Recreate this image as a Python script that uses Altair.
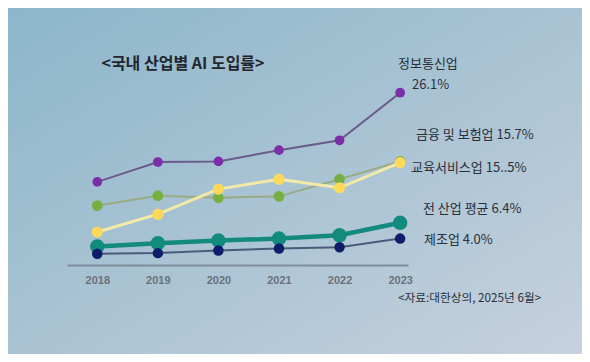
import altair as alt
import pandas as pd

# ---- data ----
years = [2018, 2019, 2020, 2021, 2022, 2023]
series_names = ["정보통신업", "금융 및 보험업", "교육서비스업", "전 산업 평균", "제조업"]
it_vals = [12.6, 15.6, 15.7, 17.4, 18.9, 26.1]
fin_vals = [9.0, 10.5, 10.2, 10.4, 13.0, 15.7]
edu_vals = [5.0, 7.7, 11.5, 13.0, 11.7, 15.5]
avg_vals = [2.8, 3.3, 3.7, 4.0, 4.5, 6.4]
mfg_vals = [1.7, 1.8, 2.2, 2.5, 2.7, 4.0]

title_text = "<국내 산업별 AI 도입률>"
source_text = "<자료:대한상의, 2025년 6월>"
label_texts = ["정보통신업", "26.1%", "금융 및 보험업 15.7%", "교육서비스업 15..5%",
               "전 산업 평균 6.4%", "제조업 4.0%"]
label_x = [2022.965, 2023.196, 2023.262, 2023.18, 2023.377, 2023.394]
label_y = [30.45, 27.27, 19.70, 14.70, 8.48, 3.79]

# styles
line_colors = ["#6a5b8e", "#9aab84", "#f3eaa8", "#148a7f", "#4b5a78"]
point_colors = ["#7b2ea8", "#76b041", "#fcd95a", "#108b7e", "#0e1d6a"]
line_widths = [2, 2, 3, 4.5, 2]
point_sizes = [95, 115, 125, 210, 110]

W, H = 341, 198
PAD = {"left": 59, "top": 59, "right": 174, "bottom": 89}

all_vals = [it_vals, fin_vals, edu_vals, avg_vals, mfg_vals]
rows = []
for name, vals in zip(series_names, all_vals):
    for y, v in zip(years, vals):
        rows.append({"series": name, "year": y, "value": v})
df = pd.DataFrame(rows)

xscale = alt.Scale(domain=[2017.5, 2023.13], nice=False, zero=False)
yscale = alt.Scale(domain=[0, 30], nice=False)

bg = alt.Chart(alt.Data(values=[{}])).mark_rect(
    fill=alt.LinearGradient(
        gradient="linear",
        stops=[
            alt.GradientStop(color="#8cb6ca", offset=0),
            alt.GradientStop(color="#a9c3d3", offset=0.5),
            alt.GradientStop(color="#c6d1de", offset=1),
        ],
        x1=0, y1=0, x2=1, y2=1,
    )
).encode(
    x=alt.value(-PAD["left"]), x2=alt.value(W + PAD["right"]),
    y=alt.value(-PAD["top"]), y2=alt.value(H + PAD["bottom"]),
)

xaxis = alt.Axis(values=years, format="d", title=None, grid=False, ticks=False,
                 domainColor="#7f8d9b", domainWidth=2, labelColor="#6b717b",
                 labelFont="Liberation Sans", labelFontWeight="bold", labelFontSize=11,
                 labelPadding=9, zindex=1)

axis_layer = alt.Chart(df).mark_point(opacity=0).encode(
    x=alt.X("year:Q", scale=xscale, axis=xaxis),
    y=alt.Y("value:Q", scale=yscale, axis=None),
)

layers = [bg, axis_layer]
for i, name in enumerate(series_names):
    base = alt.Chart(df).transform_filter(alt.datum.series == name)
    enc = dict(x=alt.X("year:Q", scale=xscale, axis=xaxis),
               y=alt.Y("value:Q", scale=yscale, axis=None))
    layers.append(base.mark_line(color=line_colors[i], strokeWidth=line_widths[i]).encode(**enc))
    layers.append(base.mark_circle(color=point_colors[i], opacity=1, size=point_sizes[i]).encode(**enc))

lab_df = pd.DataFrame({"t": label_texts, "x": label_x, "y": label_y})
labels = alt.Chart(lab_df).mark_text(
    align="left", baseline="middle", font="Noto Sans CJK KR", fontSize=13, color="#2b303a"
).encode(x=alt.X("x:Q", scale=xscale, axis=xaxis), y=alt.Y("y:Q", scale=yscale, axis=None), text="t:N")

title_df = pd.DataFrame({"t": [title_text], "x": [2019.415], "y": [30.45]})
title = alt.Chart(title_df).mark_text(
    align="center", baseline="middle", font="Noto Sans CJK KR", fontSize=16,
    fontWeight="bold", color="#23262d"
).encode(x=alt.X("x:Q", scale=xscale, axis=xaxis), y=alt.Y("y:Q", scale=yscale, axis=None), text="t:N")

src_df = pd.DataFrame({"t": [source_text], "x": [2022.965], "y": [-5.0]})
src = alt.Chart(src_df).mark_text(
    align="left", baseline="middle", font="Noto Sans CJK KR", fontSize=11.7, color="#2b303a"
).encode(x=alt.X("x:Q", scale=xscale, axis=xaxis), y=alt.Y("y:Q", scale=yscale, axis=None), text="t:N")

chart = alt.layer(*layers, labels, title, src).properties(
    width=W, height=H, padding=PAD, autosize=alt.AutoSizeParams(type="none"),
    background="#b0c6d4",
).configure_view(stroke=None)

chart.save("out.html", embed_options={"renderer": "svg", "actions": False})
